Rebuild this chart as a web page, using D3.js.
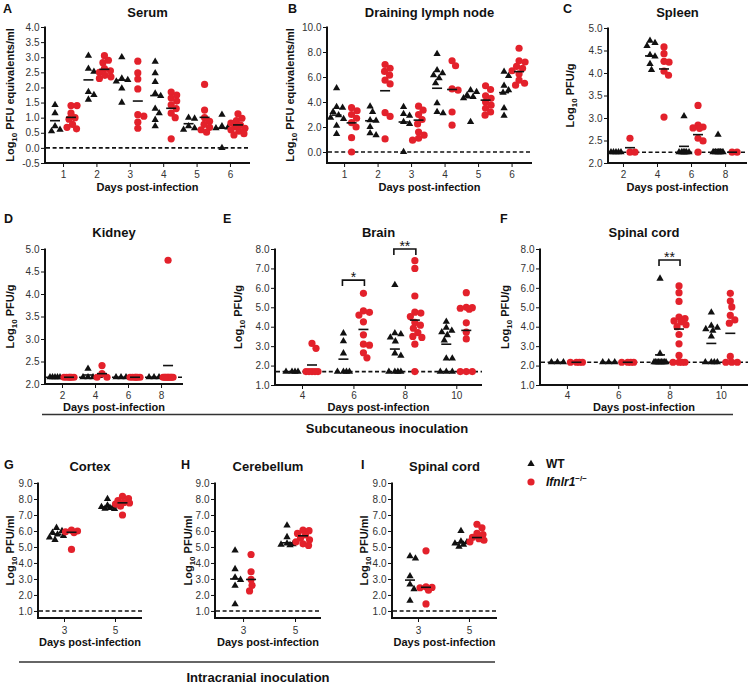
<!DOCTYPE html>
<html><head><meta charset="utf-8">
<script src="https://cdn.jsdelivr.net/npm/d3@7"></script>
<style>
body{margin:0;background:#fff}
svg{display:block}
text{font-family:'Liberation Sans',Arial,Helvetica,sans-serif}
</style>
</head><body>
<svg id="c" width="750" height="685"></svg>
<script>
// ---------------- DATA ----------------
// A: Serum
const serumDays = [1, 2, 3, 4, 5, 6];
const serumTicks = [-0.5, 0, 0.5, 1, 1.5, 2, 2.5, 3, 3.5, 4];
const serumWT = [
  [1.42, 1.15, 0.72, 0.6, 0.55],
  [3.05, 2.62, 2.52, 1.85, 1.75, 1.6],
  [3.0, 2.3, 2.25, 2.2, 1.97, 1.5],
  [2.85, 2.47, 2.18, 1.8, 1.72, 1.3, 1.15, 0.93, 0.72],
  [1.0, 0.97, 0.72, 0.65, 0.6],
  [1.1, 0.72, 0.68, 0.65, 0.0]
];
const serumKO = [
  [1.4, 1.4, 1.15, 1.0, 0.95, 0.78, 0.68, 0.63],
  [3.05, 2.9, 2.82, 2.62, 2.55, 2.5, 2.4, 2.35, 2.3],
  [2.87, 2.48, 2.28, 1.95, 1.1, 1.05, 0.85, 0.65],
  [1.85, 1.75, 1.65, 1.55, 1.42, 1.3, 1.15, 1.0, 0.3],
  [2.1, 1.25, 1.0, 0.88, 0.78, 0.68, 0.6, 0.52],
  [1.13, 0.98, 0.9, 0.82, 0.75, 0.7, 0.65, 0.6, 0.55, 0.47, 0.43]
];
const serumWTMean = [0.9, 2.25, 2.24, 1.73, 0.8, 0.65];
const serumKOMean = [1.01, 2.6, 1.55, 1.31, 1.01, 0.76];

// B: Draining lymph node
const lnDays = [1, 2, 3, 4, 5, 6];
const lnTicks = [0, 2, 4, 6, 8, 10];
const lnWT = [
  [5.1, 3.6, 3.55, 3.2, 2.95, 2.75, 2.65, 2.1, 1.45],
  [3.65, 3.2, 2.55, 2.5, 2.0, 1.5, 1.35],
  [3.6, 3.05, 2.9, 2.4, 2.25, 0.0],
  [7.85, 6.55, 6.3, 6.15, 5.9, 5.5, 3.9, 3.2, 3.1],
  [4.95, 4.8, 4.55, 4.4, 4.3, 2.4],
  [6.43, 6.09, 5.3, 4.95, 4.75, 3.5, 2.9]
];
const lnKO = [
  [3.55, 3.3, 3.0, 2.7, 2.35, 2.0, 1.15, 0.0],
  [7.0, 6.7, 6.45, 6.15, 5.75, 5.45, 3.15, 2.85, 1.05],
  [3.67, 3.35, 3.0, 2.6, 2.25, 1.6, 1.35, 1.1, 0.95],
  [7.3, 6.9, 5.05, 4.95, 3.2, 2.15],
  [5.3, 5.0, 4.5, 4.3, 4.0, 3.75, 3.5, 3.2, 2.95],
  [8.3, 7.3, 7.2, 6.85, 6.7, 6.5, 6.25, 5.75, 5.5, 5.35]
];
const lnWTMean = [2.95, 2.5, 2.4, 5.1, 4.35, 4.75];
const lnKOMean = [2.33, 4.9, 2.55, 5.0, 4.15, 6.43];

// C: Spleen
const spleenDays = [2, 4, 6, 8];
const spleenTicks = [2, 2.5, 3, 3.5, 4, 4.5, 5];
const spleenWT = [
  [2.24, 2.24, 2.24, 2.24, 2.24],
  [4.72, 4.67, 4.6, 4.4, 4.37, 4.2, 4.07],
  [3.04, 2.24, 2.24, 2.24, 2.24, 2.24, 2.24, 2.24],
  [2.63, 2.24, 2.24, 2.24, 2.24, 2.24, 2.24]
];
const spleenKO = [
  [2.55, 2.24, 2.24],
  [4.58, 4.43, 4.26, 4.24, 4.04, 3.95, 3.02],
  [3.28, 2.84, 2.8, 2.78, 2.77, 2.55, 2.49, 2.24],
  [2.24, 2.24]
];
const spleenWTMean = [2.24, 4.38, 2.37, 2.3];
const spleenKOMean = [2.34, 4.09, 2.63, 2.24];

// D: Kidney
const kidneyDays = [2, 4, 6, 8];
const kidneyTicks = [2, 2.5, 3, 3.5, 4, 4.5, 5];
const kidneyWT = [
  [2.15, 2.15, 2.15, 2.15, 2.15],
  [2.34, 2.15, 2.15, 2.15],
  [2.15, 2.15, 2.15],
  [2.15, 2.15, 2.15]
];
const kidneyKO = [
  [2.15, 2.15, 2.15, 2.15, 2.15, 2.15],
  [2.41, 2.23, 2.15, 2.15],
  [2.15, 2.15, 2.15, 2.15, 2.15, 2.15],
  [4.75, 2.15, 2.15, 2.15, 2.15, 2.15, 2.15, 2.15, 2.15, 2.15]
];
const kidneyWTMean = [2.15, 2.2, 2.15, 2.15];
const kidneyKOMean = [2.15, 2.23, 2.15, 2.41];

// E: Brain
const brainDays = [4, 6, 8, 10];
const brainTicks = [1, 2, 3, 4, 5, 6, 7, 8];
const brainWT = [
  [1.69, 1.69, 1.69, 1.69],
  [3.66, 3.26, 2.63, 1.69, 1.69, 1.69, 1.69],
  [6.15, 3.67, 3.62, 3.45, 3.25, 2.63, 2.51, 1.69, 1.69, 1.69, 1.69],
  [4.26, 3.95, 3.8, 3.72, 3.57, 3.3, 2.37, 2.37, 1.69, 1.69, 1.69]
];
const brainKO = [
  [3.14, 2.89, 1.69, 1.69, 1.69, 1.69, 1.69],
  [5.72, 4.82, 4.74, 4.6, 4.25, 3.58, 3.1, 3.05, 2.66, 2.4],
  [7.4, 7.0, 5.58, 4.75, 4.7, 4.52, 4.22, 4.08, 3.92, 3.7, 3.5, 3.45, 3.1, 1.69],
  [5.75, 5.0, 4.98, 4.95, 4.9, 4.2, 3.72, 3.37, 1.69, 1.69, 1.69]
];
const brainWTMean = [1.69, 2.33, 2.85, 3.1];
const brainKOMean = [2.03, 3.86, 4.34, 3.81];
const brainSig = [{day: 6, y: 6.4, label: '*'}, {day: 8, y: 8.0, label: '**'}];

// F: Spinal cord (s.c.)
const scordDays = [4, 6, 8, 10];
const scordTicks = [1, 2, 3, 4, 5, 6, 7, 8];
const scordWT = [
  [2.17, 2.17, 2.17],
  [2.17, 2.17, 2.17],
  [6.48, 2.62, 2.17, 2.17, 2.17, 2.17, 2.17, 2.17, 2.17, 2.17, 2.17],
  [4.74, 4.05, 3.95, 3.88, 3.8, 3.5, 2.17, 2.17, 2.17, 2.17]
];
const scordKO = [
  [2.17, 2.17, 2.17, 2.17],
  [2.17, 2.17, 2.17, 2.17],
  [6.1, 5.75, 5.3, 4.5, 4.42, 4.3, 4.25, 4.1, 4.0, 3.6, 3.12, 2.52, 2.17, 2.17, 2.17, 2.17],
  [5.72, 5.32, 5.02, 4.58, 4.35, 4.18, 2.47, 2.17, 2.17, 2.17]
];
const scordWTMean = [2.17, 2.17, 2.55, 3.14];
const scordKOMean = [2.17, 2.17, 3.88, 3.66];
const scordSig = [{day: 8, y: 7.43, label: '**'}];

// G: Cortex
const icDays = [3, 5];
const icTicks = [1, 2, 3, 4, 5, 6, 7, 8, 9];
const cortexWT = [
  [6.2, 6.0, 5.9, 5.78, 5.7, 5.6, 5.45],
  [8.0, 7.6, 7.55, 7.5, 7.45, 7.4, 7.38]
];
const cortexKO = [
  [6.05, 6.0, 5.95, 5.9, 4.85],
  [8.17, 8.03, 7.9, 7.78, 7.75, 7.68, 7.55, 7.0]
];
const cortexWTMean = [5.8, 7.5];
const cortexKOMean = [5.92, 7.76];

// H: Cerebellum
const cbWT = [
  [4.78, 3.62, 3.1, 2.95, 2.58, 1.42],
  [6.35, 5.62, 5.22, 5.18, 5.15, 5.12]
];
const cbKO = [
  [4.53, 3.45, 2.97, 2.6, 2.25],
  [6.05, 6.02, 5.85, 5.75, 5.55, 5.45, 5.32, 5.2, 5.1]
];
const cbWTMean = [3.0, 5.26];
const cbKOMean = [2.97, 5.7];

// I: Spinal cord (i.c.)
const icScWT = [
  [4.43, 4.28, 3.18, 2.66, 2.37, 1.64],
  [6.0, 5.35, 5.3, 5.22, 5.15, 5.02]
];
const icScKO = [
  [4.76, 2.5, 2.47, 2.45, 2.3, 1.44],
  [6.42, 6.2, 5.85, 5.78, 5.6, 5.52, 5.42, 5.32]
];
const icScWTMean = [2.93, 5.26];
const icScKOMean = [2.48, 5.59];

// ---------------- LAYOUT ----------------
const RED = '#e3212b', BLK = '#111';
const rows = {
  1: {letterY: 13, titleY: 17, tickY: 178, axTitleY: 191},
  2: {letterY: 223, titleY: 237, tickY: 398.5, axTitleY: 411},
  3: {letterY: 469, titleY: 471, tickY: 634, axTitleY: 646}
};
const panels = [
  {L:'A', title:'Serum', unit:' PFU equivalents/ml', row:1, x0:45, x1:250, y0:27, y1:163, xd:[0.46,6.6], yd:[-0.5,4], days:serumDays, ticks:serumTicks, wt:serumWT, ko:serumKO, wm:serumWTMean, km:serumKOMean, lod:0, off:8, spread:7, lx:14, letterX:3},
  {L:'B', title:'Draining lymph node', unit:' PFU equivalents/ml', row:1, x0:327, x1:532, y0:27, y1:163, xd:[0.49,6.61], yd:[-0.88,10], days:lnDays, ticks:lnTicks, wt:lnWT, ko:lnKO, wm:lnWTMean, km:lnKOMean, lod:0, off:7.5, spread:7, lx:294, letterX:288},
  {L:'C', title:'Spleen', unit:' PFU/g', row:1, x0:608, x1:747, y0:28, y1:163, xd:[1.12,9.29], yd:[2,5], days:spleenDays, ticks:spleenTicks, wt:spleenWT, ko:spleenKO, wm:spleenWTMean, km:spleenKOMean, lod:2.24, off:7, spread:5, lx:574, letterX:563},
  {L:'D', title:'Kidney', unit:' PFU/g', row:2, x0:45, x1:183, y0:249, y1:384, xd:[0.97,9.33], yd:[2,5], days:kidneyDays, ticks:kidneyTicks, wt:kidneyWT, ko:kidneyKO, wm:kidneyWTMean, km:kidneyKOMean, lod:2.15, off:7, spread:5, lx:14, letterX:4},
  {L:'E', title:'Brain', unit:' PFU/g', row:2, x0:275, x1:482, y0:249, y1:385, xd:[2.95,11.0], yd:[1,8], days:brainDays, ticks:brainTicks, wt:brainWT, ko:brainKO, wm:brainWTMean, km:brainKOMean, lod:1.69, off:10, spread:7, lx:242, letterX:223, sig:brainSig},
  {L:'F', title:'Spinal cord', unit:' PFU/g', row:2, x0:540, x1:748, y0:249, y1:385, xd:[2.95,11.06], yd:[1,8], days:scordDays, ticks:scordTicks, wt:scordWT, ko:scordKO, wm:scordWTMean, km:scordKOMean, lod:2.17, off:9.5, spread:7, lx:509, letterX:500, sig:scordSig},
  {L:'G', title:'Cortex', unit:' PFU/ml', row:3, x0:38, x1:142, y0:483, y1:618, xd:[1.98,6.06], yd:[0.56,9], days:icDays, ticks:icTicks, wt:cortexWT, ko:cortexKO, wm:cortexWTMean, km:cortexKOMean, lod:1, off:7.5, spread:7, lx:14, letterX:4},
  {L:'H', title:'Cerebellum', unit:' PFU/ml', row:3, x0:215, x1:321, y0:483, y1:618, xd:[1.92,6.0], yd:[0.56,9], days:icDays, ticks:icTicks, wt:cbWT, ko:cbKO, wm:cbWTMean, km:cbKOMean, lod:1, off:8, spread:7, lx:192, letterX:181},
  {L:'I', title:'Spinal cord', unit:' PFU/ml', row:3, x0:392, x1:497, y0:483, y1:618, xd:[1.98,6.1], yd:[0.56,9], days:icDays, ticks:icTicks, wt:icScWT, ko:icScKO, wm:icScWTMean, km:icScKOMean, lod:1, off:8, spread:7, lx:368, letterX:361}
];

const svg = d3.select('#c');
const tri = d3.symbol().type(d3.symbolTriangle).size(23);

function swarm(vals, cx, y, dmin, maxOff) {
  const pts = vals.map(v => ({v, py: y(v)}));
  const order = pts.slice().sort((a, b) => a.py - b.py);
  const placed = [];
  for (const p of order) {
    let best = 0, bestScore = -1;
    for (let k = 0; ; k++) {
      const o = (k % 2 ? 1 : -1) * Math.ceil(k / 2) * 0.5;
      if (Math.abs(o) > maxOff) break;
      let minD = Infinity;
      for (const q of placed) {
        const d = Math.hypot(o - q.off, p.py - q.py);
        if (d < minD) minD = d;
      }
      if (minD >= dmin) { best = o; bestScore = Infinity; break; }
      if (minD > bestScore) { bestScore = minD; best = o; }
    }
    p.off = best;
    placed.push(p);
  }
  return pts.map(p => ({v: p.v, px: cx + p.off, py: p.py}));
}

function drawPanel(p) {
  const r = rows[p.row];
  const g = svg.append('g');
  const x = d3.scaleLinear().domain(p.xd).range([p.x0, p.x1]);
  const y = d3.scaleLinear().domain(p.yd).range([p.y1, p.y0]);

  g.append('text').attr('x', p.letterX).attr('y', r.letterY)
    .attr('font-size', 12.5).attr('font-weight', 'bold').attr('fill', BLK).text(p.L);
  g.append('text').attr('x', (p.x0 + p.x1) / 2).attr('y', r.titleY)
    .attr('text-anchor', 'middle').attr('font-size', 13).attr('font-weight', 'bold').attr('fill', BLK).text(p.title);

  const ya = g.append('g').attr('transform', `translate(${p.x0},0)`)
    .call(d3.axisLeft(y).tickValues(p.ticks).tickFormat(d => d.toFixed(1)).tickSize(4).tickSizeOuter(0).tickPadding(1.5));
  ya.select('.domain').attr('stroke', BLK).attr('stroke-width', 2).attr('d', `M0,${p.y0 - 0.5}V${p.y1 + 1}`);
  ya.selectAll('.tick line').attr('stroke', BLK).attr('stroke-width', 1);
  ya.selectAll('.tick text').attr('font-size', 10).attr('fill', '#333')
    .attr('font-family', "'Liberation Sans',Arial,sans-serif");

  const xa = g.append('g').attr('transform', `translate(0,${p.y1})`)
    .call(d3.axisBottom(x).tickValues(p.days).tickFormat(d3.format('d')).tickSize(4).tickSizeOuter(0));
  xa.select('.domain').attr('stroke', BLK).attr('stroke-width', 2).attr('d', `M${p.x0 - 1},0H${p.x1}`);
  xa.selectAll('.tick line').attr('stroke', BLK).attr('stroke-width', 1);
  xa.selectAll('.tick text').attr('font-size', 10).attr('fill', '#333')
    .attr('font-family', "'Liberation Sans',Arial,sans-serif")
    .attr('y', r.tickY - p.y1).attr('dy', 0);

  g.append('text').attr('x', (p.x0 + p.x1) / 2).attr('y', r.axTitleY)
    .attr('text-anchor', 'middle').attr('font-size', 11).attr('font-weight', 'bold').attr('fill', BLK)
    .text('Days post-infection');
  const yl = g.append('text')
    .attr('transform', `translate(${p.lx},${(p.y0 + p.y1) / 2}) rotate(-90)`)
    .attr('text-anchor', 'middle').attr('font-size', 11).attr('font-weight', 'bold').attr('fill', BLK);
  yl.append('tspan').text('Log');
  yl.append('tspan').attr('font-size', 8).attr('dy', 3).text('10');
  yl.append('tspan').attr('dy', -3).text(p.unit);

  g.append('line').attr('x1', p.x0 + 1).attr('x2', p.x1).attr('y1', y(p.lod)).attr('y2', y(p.lod))
    .attr('stroke', BLK).attr('stroke-width', 1.6).attr('stroke-dasharray', '4,2.6');

  p.days.forEach((day, i) => {
    const cw = x(day) - p.off, ck = x(day) + p.off;
    swarm(p.wt[i], cw, y, 6, p.spread).forEach(pt => {
      g.append('path').attr('d', tri).attr('transform', `translate(${pt.px},${pt.py})`).attr('fill', BLK);
    });
    swarm(p.ko[i], ck, y, 6, p.spread).forEach(pt => {
      g.append('circle').attr('cx', pt.px).attr('cy', pt.py).attr('r', 3.6).attr('fill', RED);
    });
  });
  p.days.forEach((day, i) => {
    const cw = x(day) - p.off, ck = x(day) + p.off;
    [[cw, p.wm[i]], [ck, p.km[i]]].forEach(([cx, m]) => {
      g.append('line').attr('x1', cx - 5).attr('x2', cx + 5).attr('y1', y(m)).attr('y2', y(m))
        .attr('stroke', BLK).attr('stroke-width', 1.6);
    });
  });

  (p.sig || []).forEach(s => {
    const xa1 = x(s.day) - p.off - 1, xb1 = x(s.day) + p.off + 1, yt = y(s.y);
    g.append('path').attr('d', `M${xa1},${yt + 6}V${yt}H${xb1}V${yt + 6}`)
      .attr('fill', 'none').attr('stroke', BLK).attr('stroke-width', 1.6);
    g.append('text').attr('x', (xa1 + xb1) / 2).attr('y', yt + 2).attr('text-anchor', 'middle')
      .attr('font-size', 14).attr('fill', BLK).text(s.label);
  });
}
panels.forEach(drawPanel);

svg.append('line').attr('x1', 42).attr('x2', 733).attr('y1', 414.5).attr('y2', 414.5)
  .attr('stroke', '#333').attr('stroke-width', 1.6);
svg.append('text').attr('x', 387).attr('y', 433).attr('text-anchor', 'middle')
  .attr('font-size', 13).attr('font-weight', 'bold').attr('fill', BLK).text('Subcutaneous inoculation');
svg.append('line').attr('x1', 19).attr('x2', 495).attr('y1', 662).attr('y2', 662)
  .attr('stroke', '#333').attr('stroke-width', 1.6);
svg.append('text').attr('x', 258).attr('y', 682).attr('text-anchor', 'middle')
  .attr('font-size', 13).attr('font-weight', 'bold').attr('fill', BLK).text('Intracranial inoculation');

const lg = svg.append('g');
lg.append('path').attr('d', tri).attr('transform', 'translate(531,464)').attr('fill', BLK);
lg.append('text').attr('x', 546).attr('y', 468).attr('font-size', 12).attr('font-weight', 'bold').attr('fill', BLK).text('WT');
lg.append('circle').attr('cx', 531).attr('cy', 482).attr('r', 3.6).attr('fill', RED);
const lt = lg.append('text').attr('x', 546).attr('y', 486).attr('font-size', 12).attr('font-weight', 'bold').attr('fill', BLK);
lt.append('tspan').attr('font-style', 'italic').text('Ifnlr1');
lt.append('tspan').attr('font-size', 8).attr('dy', -5).text('\u2212/\u2212');
</script>
</body></html>
